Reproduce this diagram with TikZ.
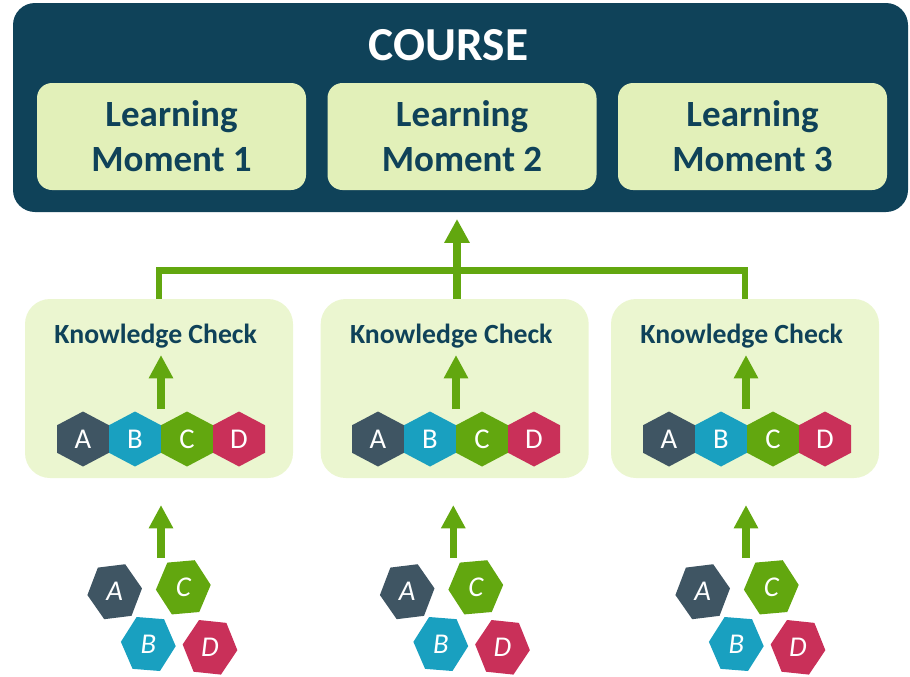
\documentclass[tikz,border=0pt]{standalone}
\usepackage{fontspec}
\setmainfont{Carlito}
\usetikzlibrary{arrows.meta}

\definecolor{coursebg}{HTML}{0F4259}
\definecolor{lmfill}{HTML}{E2F0B9}
\definecolor{kcfill}{HTML}{EBF6D0}
\definecolor{leaf}{HTML}{62A70F}
\definecolor{hexa}{HTML}{3F5563}
\definecolor{hexb}{HTML}{19A0C0}
\definecolor{hexc}{HTML}{62A70F}
\definecolor{hexd}{HTML}{C93059}

\tikzset{
  coursebox/.style={fill=coursebg, rounded corners=16.5pt, minimum width=671.25pt, minimum height=156.75pt, inner sep=0pt},
  lmbox/.style={fill=lmfill, rounded corners=11.25pt, minimum width=201.75pt, minimum height=80.25pt, inner sep=0pt, align=center, text=coursebg, font=\fontsize{27.75}{33.75}\selectfont\bfseries},
  kcbox/.style={fill=kcfill, rounded corners=18.75pt, minimum width=201pt, minimum height=134.25pt, inner sep=0pt},
  kctext/.style={anchor=base, inner sep=0pt, text=coursebg, font=\fontsize{20.8}{22}\selectfont\bfseries},
  hexlabel/.style={inner sep=0pt, text=white, font=\fontsize{21.5}{22}\selectfont},
  looselabel/.style={hexlabel, font=\fontsize{21.5}{22}\selectfont\itshape},
  barline/.style={draw=leaf, line width=4.9pt, line join=miter},
  bigarrow/.style={draw=leaf, line width=6pt, -{Triangle[width=18pt,length=18pt]}},
  uparrow/.style={draw=leaf, line width=5.4pt, -{Triangle[width=17.25pt,length=17.5pt]}},
  hexcell/.pic={\fill (0,-27.5) -- (26,-13.75) -- (26,13.75) -- (0,27.5) -- (-26,13.75) -- (-26,-13.75) -- cycle;}
}

\begin{document}
\begin{tikzpicture}[x=0.75pt,y=-0.75pt]
\useasboundingbox (0,0) rectangle (910,676);

\node[coursebox] (course) at (460.5,107.5) {};
\node[anchor=base, inner sep=0pt, text=white, font=\fontsize{35.5}{36}\selectfont\bfseries] (title) at (448.5,60) {COURSE};
\node[lmbox] (lm1) at (171.5,136.5) {Learning\\Moment 1};
\node[lmbox] (lm2) at (462,136.5) {Learning\\Moment 2};
\node[lmbox] (lm3) at (752.5,136.5) {Learning\\Moment 3};

\node[kcbox] (kc1) at (159,388.5) {};
\node[kcbox] (kc2) at (454.7,388.5) {};
\node[kcbox] (kc3) at (745,388.5) {};
\node[kctext] (kct1) at (155.7,343.3) {Knowledge Check};
\node[kctext] (kct2) at (451.3,343.3) {Knowledge Check};
\node[kctext] (kct3) at (741.7,343.3) {Knowledge Check};

\coordinate (bar) at (457,270.5);
\draw[barline] (kc1.north) |- (bar) -| (kc3.north);
\draw[bigarrow, shorten >=5pt] (kc2.north -| bar) -- (bar |- course.south);

\pic[fill=hexa] at (83,439) {hexcell};
\pic[fill=hexb] at (135,439) {hexcell};
\pic[fill=hexc] at (187,439) {hexcell};
\pic[fill=hexd] at (239,439) {hexcell};
\node[hexlabel] (a1) at (83,439) {A};
\node[hexlabel] (b1) at (135,439) {B};
\node[hexlabel] (c1) at (187,439) {C};
\node[hexlabel] (d1) at (239,439) {D};

\pic[fill=hexa] at (378,439) {hexcell};
\pic[fill=hexb] at (430,439) {hexcell};
\pic[fill=hexc] at (482,439) {hexcell};
\pic[fill=hexd] at (534,439) {hexcell};
\node[hexlabel] (a2) at (378,439) {A};
\node[hexlabel] (b2) at (430,439) {B};
\node[hexlabel] (c2) at (482,439) {C};
\node[hexlabel] (d2) at (534,439) {D};

\pic[fill=hexa] at (669,439) {hexcell};
\pic[fill=hexb] at (721,439) {hexcell};
\pic[fill=hexc] at (773,439) {hexcell};
\pic[fill=hexd] at (825,439) {hexcell};
\node[hexlabel] (a3) at (669,439) {A};
\node[hexlabel] (b3) at (721,439) {B};
\node[hexlabel] (c3) at (773,439) {C};
\node[hexlabel] (d3) at (825,439) {D};

\coordinate (row1) at (161,409);
\coordinate (row2) at (456,409);
\coordinate (row3) at (746,409);
\draw[uparrow] (row1) -- (row1 |- 0,355);
\draw[uparrow] (row2) -- (row2 |- 0,355);
\draw[uparrow] (row3) -- (row3 |- 0,355);

\pic[fill=hexa, rotate=-83] at (114.7,591.7) {hexcell};
\pic[fill=hexc, rotate=-85] at (183.3,587.3) {hexcell};
\pic[fill=hexb, rotate=-94.5] at (148.3,644) {hexcell};
\pic[fill=hexd, rotate=-96] at (210,647.3) {hexcell};
\node[looselabel] (la1) at (114.7,591.7) {A};
\node[looselabel] (lc1) at (183.3,587.3) {C};
\node[looselabel] (lb1) at (148.3,644) {B};
\node[looselabel] (ld1) at (210,647.3) {D};

\pic[fill=hexa, rotate=-83] at (407.2,591.7) {hexcell};
\pic[fill=hexc, rotate=-85] at (475.8,587.3) {hexcell};
\pic[fill=hexb, rotate=-94.5] at (440.8,644) {hexcell};
\pic[fill=hexd, rotate=-96] at (502.5,647.3) {hexcell};
\node[looselabel] (la2) at (407.2,591.7) {A};
\node[looselabel] (lc2) at (475.8,587.3) {C};
\node[looselabel] (lb2) at (440.8,644) {B};
\node[looselabel] (ld2) at (502.5,647.3) {D};

\pic[fill=hexa, rotate=-83] at (702.7,591.7) {hexcell};
\pic[fill=hexc, rotate=-85] at (771.3,587.3) {hexcell};
\pic[fill=hexb, rotate=-94.5] at (736.3,644) {hexcell};
\pic[fill=hexd, rotate=-96] at (798,647.3) {hexcell};
\node[looselabel] (la3) at (702.7,591.7) {A};
\node[looselabel] (lc3) at (771.3,587.3) {C};
\node[looselabel] (lb3) at (736.3,644) {B};
\node[looselabel] (ld3) at (798,647.3) {D};

\coordinate (pile1) at (161,558);
\coordinate (pile2) at (453.3,558);
\coordinate (pile3) at (746,558);
\draw[uparrow] (pile1) -- (pile1 |- 0,505);
\draw[uparrow] (pile2) -- (pile2 |- 0,505);
\draw[uparrow] (pile3) -- (pile3 |- 0,505);
\end{tikzpicture}
\end{document}
